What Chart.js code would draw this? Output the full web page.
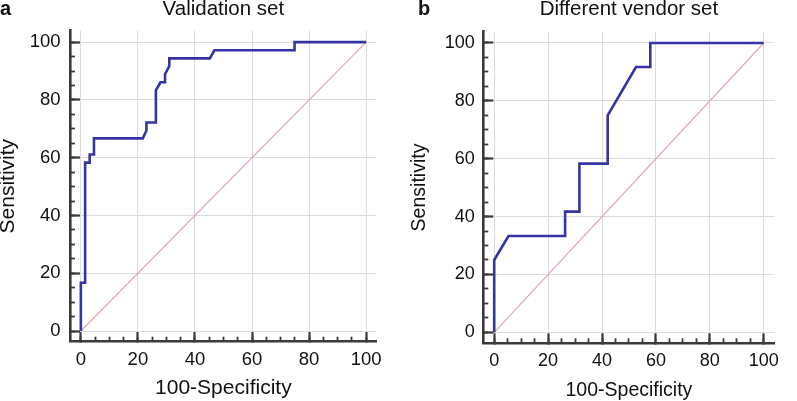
<!DOCTYPE html>
<html><head><meta charset="utf-8">
<script src="https://cdn.jsdelivr.net/npm/chart.js@4.4.1/dist/chart.umd.min.js"></script>
<style>
html,body{margin:0;padding:0;background:#fff;}
#wrap{position:relative;width:797px;height:401px;overflow:hidden;}
#wrap canvas{position:absolute;top:0;}
.lbl{position:absolute;font:bold 20px "Liberation Sans",Arial,sans-serif;line-height:20px;color:#111;}
</style></head><body>
<div id="wrap">
<canvas id="c1" width="400" height="401" style="left:0px"></canvas>
<canvas id="c2" width="397" height="401" style="left:400px"></canvas>
<div class="lbl" style="left:0px;top:-2px">a</div>
<div class="lbl" style="left:418px;top:-2px">b</div>
</div>
<script>
// ---- data ----
const panelTitles = ['Validation set', 'Different vendor set'];
const xAxisTitle = '100-Specificity';
const yAxisTitle = 'Sensitivity';
const majorStep = 20;
const minorStep = 5;

// Validation set ROC (100-Specificity, Sensitivity)
const valFpr = [0, 0, 1.5, 1.5, 3.1, 3.1, 4.6, 4.6, 21.7, 23.0, 23.0, 26.3, 26.3, 27.9, 29.5, 29.5, 31.0, 31.0, 45.2, 46.8, 74.9, 74.9, 100];
const valTpr = [0, 16.7, 16.7, 58.3, 58.3, 61.1, 61.1, 66.7, 66.7, 69.4, 72.2, 72.2, 83.3, 86.1, 86.1, 88.9, 91.7, 94.4, 94.4, 97.2, 97.2, 100, 100];

// Different vendor set ROC
const venFpr = [0, 0, 5.3, 26.3, 26.3, 31.6, 31.6, 42.1, 42.1, 52.6, 57.9, 57.9, 100];
const venTpr = [0, 25, 33.3, 33.3, 41.7, 41.7, 58.3, 58.3, 75, 91.7, 91.7, 100, 100];

// reference diagonal
const diagX = [0, 100];
const diagY = [0, 100];

// ---- rendering ----
Chart.defaults.font.family = '"Liberation Sans", Arial, sans-serif';
Chart.defaults.color = '#111';

const AXIS = '#3a3a3a';
const GRID = '#dcdcdc';

function pts(xs, ys) { return xs.map((x, i) => ({x: x, y: ys[i]})); }

function makeChart(id, fpr, tpr, title, g) {
  const linAxis = (pos, min, max, extra) => Object.assign({
    type: 'linear', position: pos, min: min, max: max, bounds: 'ticks'
  }, extra);
  const scales = {
    x: linAxis('bottom', g.xMin, g.xMax, {
      weight: 1,
      ticks: {stepSize: majorStep, includeBounds: false, padding: g.xTickPad, maxRotation: 0,
              color: '#111', font: {size: g.tickFont}},
      grid: {color: GRID, lineWidth: 1, drawTicks: true, tickLength: -10, tickColor: AXIS, tickWidth: 2.2},
      border: {display: true, color: AXIS, width: 2.6},
      title: {display: true, text: xAxisTitle, color: '#111', font: {size: g.axisTitleFont},
              padding: {top: 0, bottom: g.xTitlePad}},
      afterFit: s => { s.height = g.xAxisH; }
    }),
    x2: linAxis('bottom', g.xMin, g.xMax, {
      weight: 0,
      ticks: {stepSize: minorStep, includeBounds: false, display: false},
      grid: {drawOnChartArea: false, drawTicks: true, tickLength: -5, tickColor: AXIS, tickWidth: 1.8},
      border: {display: false},
      afterFit: s => { s.height = 0; }
    }),
    y: linAxis('left', g.yMin, g.yMax, {
      weight: 1,
      ticks: {stepSize: majorStep, includeBounds: false, padding: g.yTickPad,
              color: '#111', font: {size: g.tickFont}},
      grid: {color: GRID, lineWidth: 1, drawTicks: true, tickLength: -10, tickColor: AXIS, tickWidth: 2.2},
      border: {display: true, color: AXIS, width: 2.6},
      title: {display: true, text: yAxisTitle, color: '#111', font: {size: g.axisTitleFont},
              padding: {top: g.yTitlePad, bottom: 0}},
      afterFit: s => { s.width = g.yAxisW; }
    }),
    y2: linAxis('left', g.yMin, g.yMax, {
      weight: 0,
      ticks: {stepSize: minorStep, includeBounds: false, display: false},
      grid: {drawOnChartArea: false, drawTicks: true, tickLength: -5, tickColor: AXIS, tickWidth: 1.8},
      border: {display: false},
      afterFit: s => { s.width = 0; }
    })
  };
  return new Chart(document.getElementById(id), {
    type: 'scatter',
    data: {
      datasets: [
        {data: pts(fpr, tpr), showLine: true, borderColor: '#3434a2', borderWidth: 2.6,
         pointRadius: 0, tension: 0, fill: false, xAxisID: 'x', yAxisID: 'y'},
        {data: pts(diagX, diagY), showLine: true, borderColor: '#dcaaae', borderWidth: 1.2,
         pointRadius: 0, tension: 0, fill: false, xAxisID: 'x', yAxisID: 'y'}
      ]
    },
    options: {
      responsive: false, animation: false, events: [],
      layout: {padding: {left: 0, right: g.padRight, top: 0, bottom: 0}},
      plugins: {
        legend: {display: false}, tooltip: {enabled: false},
        title: {display: true, text: title, fullSize: false, color: '#111',
                font: {size: 20.5, weight: 'normal'},
                padding: {top: g.titlePadTop, bottom: g.titlePadBottom}}
      },
      scales: scales
    }
  });
}

makeChart('c1', valFpr, valTpr, panelTitles[0], {
  xMin: -3.8, xMax: 103.7, yMin: -3.7, yMax: 104,
  yAxisW: 70, xAxisH: 59.3, padRight: 18.25,
  titlePadTop: -3.5, titlePadBottom: 8.9,
  tickFont: 18.5, axisTitleFont: 21,
  yTickPad: 19.5, xTickPad: 17.6, yTitlePad: -4.2, xTitlePad: 0
});
makeChart('c2', venFpr, venTpr, panelTitles[1], {
  xMin: -4.05, xMax: 104, yMin: -3.8, yMax: 103.9,
  yAxisW: 83.3, xAxisH: 57.7, padRight: 1.4,
  titlePadTop: -2.8, titlePadBottom: 9.9,
  tickFont: 18, axisTitleFont: 19.5,
  yTickPad: 18.5, xTickPad: 17.4, yTitlePad: 8.4, xTitlePad: -1.4
});
</script>
</body></html>
